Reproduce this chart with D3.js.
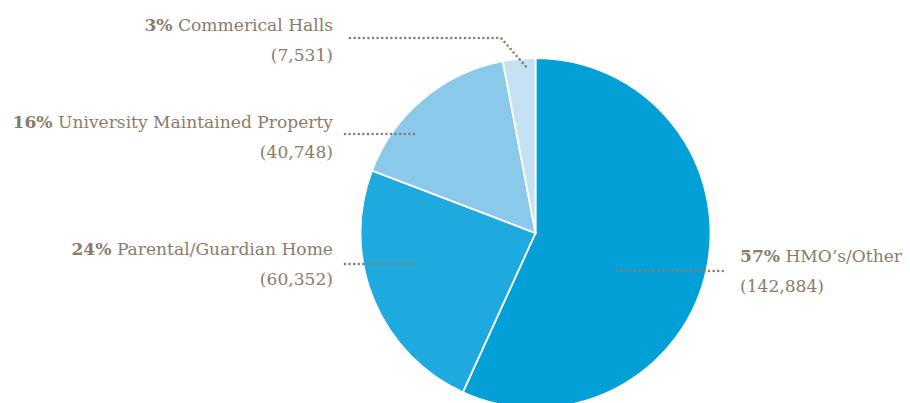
<!DOCTYPE html>
<html>
<head>
<meta charset="utf-8">
<script src="https://cdn.jsdelivr.net/npm/d3@7"></script>
<style>
  html, body { margin: 0; padding: 0; background: #fff; }
  svg { display: block; }
  .lbl { font-family: "DejaVu Serif", serif; font-size: 17.1px; fill: #8b7b6b; }
  .pct { font-weight: bold; }
</style>
</head>
<body>
<div id="chart"></div>
<script>
// Accommodation types, clockwise from 12 o'clock
const categories = ["HMO’s/Other", "Parental/Guardian Home", "University Maintained Property", "Commerical Halls"];
const values = [142884, 60352, 40748, 7531];
const percents = ["57%", "24%", "16%", "3%"];
const colors = ["#02a0d6", "#1eaade", "#8ac9ea", "#c4e2f3"];

const width = 910, height = 403;
const cx = 535.5, cy = 233, radius = 175;

const svg = d3.select("#chart").append("svg")
  .attr("width", width)
  .attr("height", height);

const pie = d3.pie().sort(null).value(d => d);
const arc = d3.arc().innerRadius(0).outerRadius(radius);
const arcs = pie(values);

const g = svg.append("g").attr("transform", "translate(" + cx + "," + cy + ")");
g.selectAll("path")
  .data(arcs)
  .enter()
  .append("path")
  .attr("d", arc)
  .attr("fill", (d, i) => colors[i])
  .attr("stroke", "#fff")
  .attr("stroke-width", 1.8);

// label placement (annotation layout)
const labels = [
  {side: "right", x: 740, y: 262, line: [[617, 271], [727, 271]]},
  {side: "left", x: 333, y: 255, line: [[345, 264], [416, 264]]},
  {side: "left", x: 333, y: 128, line: [[345, 134], [416, 134]]},
  {side: "left", x: 333, y: 31, line: [[350, 38], [501, 38], [528, 69]]}
];

const fmt = d3.format(",");
const line = d3.line();

labels.forEach((l, i) => {
  svg.append("path")
    .attr("d", line(l.line))
    .attr("fill", "none")
    .attr("stroke", "#8b7b6b")
    .attr("stroke-width", 2.6)
    .attr("stroke-linecap", "round")
    .attr("stroke-dasharray", "0,4.6");

  const anchor = l.side === "left" ? "end" : "start";
  const t = svg.append("text")
    .attr("class", "lbl")
    .attr("x", l.x)
    .attr("y", l.y)
    .attr("text-anchor", anchor);
  t.append("tspan").attr("class", "pct").text(percents[i]);
  t.append("tspan").text(" " + categories[i]);

  svg.append("text")
    .attr("class", "lbl")
    .attr("x", l.x)
    .attr("y", l.y + 30)
    .attr("text-anchor", anchor)
    .text("(" + fmt(values[i]) + ")");
});
</script>
</body>
</html>
